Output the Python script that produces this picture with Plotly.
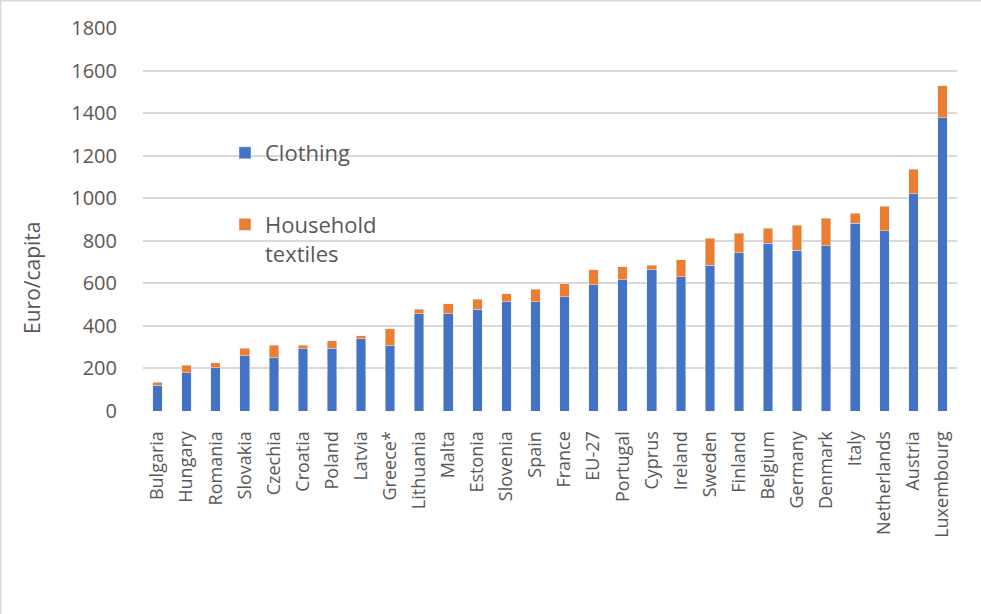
import plotly.graph_objects as go

countries = ["Bulgaria", "Hungary", "Romania", "Slovakia", "Czechia", "Croatia", "Poland",
             "Latvia", "Greece*", "Lithuania", "Malta", "Estonia", "Slovenia", "Spain",
             "France", "EU-27", "Portugal", "Cyprus", "Ireland", "Sweden", "Finland",
             "Belgium", "Germany", "Denmark", "Italy", "Netherlands", "Austria", "Luxembourg"]
clothing = [122, 180, 204, 260, 251, 293, 295, 340, 307, 457, 457, 479, 514, 514,
            536, 594, 617, 664, 630, 686, 744, 789, 755, 777, 882, 847, 1021, 1378]
household = [13, 36, 23, 36, 58, 16, 35, 14, 80, 22, 46, 47, 36, 58,
             61, 70, 60, 22, 80, 127, 92, 71, 117, 130, 48, 116, 115, 151]
y_ticks = [0, 200, 400, 600, 800, 1000, 1200, 1400, 1600, 1800]

FONT = "Open Sans"
GREY = "#595959"
W, H = 981, 614
L, R, T, B = 143, 24, 28, 203
PW, PH = W - L - R, H - T - B

def px_x(x):
    return (x - L) / PW

def px_y(y):
    return (H - B - y) / PH

fig = go.Figure()
fig.add_trace(go.Bar(x=countries, y=clothing, name="Clothing", marker_color="#4472C4",
                     width=0.33, legendgroup="a"))
fig.add_trace(go.Bar(x=countries, y=household, name="Household<br>textiles",
                     marker_color="#ED7D31", width=0.33, legendgroup="b"))

fig.update_layout(
    width=W, height=H, barmode="stack",
    margin=dict(l=L, r=R, t=T, b=B),
    paper_bgcolor="white", plot_bgcolor="white",
    font=dict(family=FONT, color=GREY),
    legend=dict(x=px_x(225), y=px_y(132), xanchor="left", yanchor="top",
                font=dict(size=22, family=FONT, color=GREY),
                traceorder="grouped", tracegroupgap=40, valign="top",
                bgcolor="rgba(255,255,255,0)"),
    xaxis=dict(tickangle=-90, tickfont=dict(size=18, family=FONT, color=GREY),
               ticks="outside", ticklen=12, tickcolor="rgba(0,0,0,0)",
               showline=False, showgrid=False),
    yaxis=dict(range=[0, 1800], tickvals=y_ticks, ticks="outside", ticklen=21,
               tickcolor="rgba(0,0,0,0)", tickfont=dict(size=20, family=FONT, color=GREY),
               showgrid=True, gridcolor="#d9d9d9", gridwidth=2, zeroline=False,
               showline=False),
    annotations=[dict(text="Euro/capita", x=px_x(32), y=px_y(278), xref="paper", yref="paper",
                      textangle=-90, showarrow=False, xanchor="center", yanchor="middle",
                      font=dict(size=21, family=FONT, color=GREY))],
    shapes=[
        dict(type="line", xref="paper", yref="paper", x0=px_x(0), x1=px_x(W + 5),
             y0=px_y(0.75), y1=px_y(0.75), line=dict(color="#d9d9d9", width=1.5)),
        dict(type="line", xref="paper", yref="paper", x0=px_x(0.75), x1=px_x(0.75),
             y0=px_y(0), y1=px_y(H + 5), line=dict(color="#d9d9d9", width=1.5)),
    ],
)

fig.write_html("out.html")
